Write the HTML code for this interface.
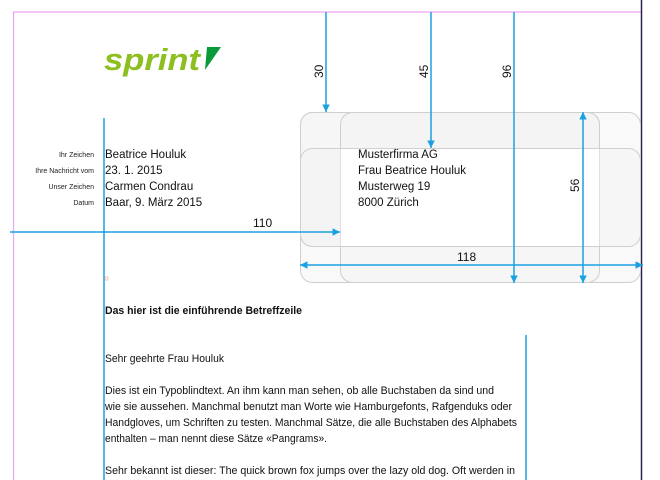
<!DOCTYPE html>
<html><head><meta charset="utf-8"><style>
html,body{margin:0;padding:0;background:#fff;width:660px;height:480px;overflow:hidden}
svg{display:block;font-family:"Liberation Sans",sans-serif}
</style></head><body>
<svg width="660" height="480" viewBox="0 0 660 480" xmlns="http://www.w3.org/2000/svg">
<defs>
<marker id="a" viewBox="0 0 10 10" refX="10" refY="5" markerWidth="5" markerHeight="5" orient="auto-start-reverse"><path d="M0,0L10,5L0,10z" fill="#1ba1e2"/></marker>
</defs>
<line x1="13" y1="12" x2="641" y2="12" stroke="#f0a0f0" stroke-width="1.2"/>
<line x1="13.5" y1="12" x2="13.5" y2="480" stroke="#e0a8f0" stroke-width="1.2"/>
<line x1="641.5" y1="0" x2="641.5" y2="480" stroke="#302050" stroke-width="1.5"/>
<text x="104" y="70" font-size="31" font-weight="bold" font-style="italic" fill="#8cbf1f" textLength="96" lengthAdjust="spacingAndGlyphs">sprint</text>
<polygon points="207,47 221,47 205,70" fill="#0a9a3a"/>
<g stroke="#cfcfcf" stroke-width="1" fill="#f2f2f2" fill-opacity="0.45">
<rect x="300.5" y="112.5" width="340" height="170" rx="12"/>
<rect x="300.5" y="112.5" width="299" height="134" rx="12"/>
<rect x="340.5" y="112.5" width="259" height="170" rx="12"/>
<rect x="300.5" y="148.5" width="340" height="98" rx="12"/>
</g>
<rect x="341" y="149" width="258" height="97" fill="#fff"/>
<g font-size="7" fill="#222" text-anchor="end">
<text x="94" y="157">Ihr Zeichen</text>
<text x="94" y="173">Ihre Nachricht vom</text>
<text x="94" y="189">Unser Zeichen</text>
<text x="94" y="205">Datum</text>
</g>
<g font-size="11.5" fill="#111">
<text x="105" y="158">Beatrice Houluk</text>
<text x="105" y="174">23. 1. 2015</text>
<text x="105" y="190">Carmen Condrau</text>
<text x="105" y="206">Baar, 9. März 2015</text>
<text x="358" y="158">Musterfirma AG</text>
<text x="358" y="174">Frau Beatrice Houluk</text>
<text x="358" y="190">Musterweg 19</text>
<text x="358" y="206">8000 Zürich</text>
</g>
<g stroke="#1ba1e2" stroke-width="1.5" fill="none">
<line x1="104" y1="118" x2="104" y2="480"/>
<line x1="526" y1="335" x2="526" y2="480"/>
<line x1="10" y1="232" x2="340" y2="232" marker-end="url(#a)"/>
<line x1="326" y1="12" x2="326" y2="112" marker-end="url(#a)"/>
<line x1="431" y1="12" x2="431" y2="148" marker-end="url(#a)"/>
<line x1="514" y1="12" x2="514" y2="283" marker-end="url(#a)"/>
<line x1="583" y1="112" x2="583" y2="283" marker-start="url(#a)" marker-end="url(#a)"/>
<line x1="300" y1="265" x2="643" y2="265" marker-start="url(#a)" marker-end="url(#a)"/>
</g>
<g font-size="12" fill="#111">
<text x="253" y="227">110</text>
<text x="457" y="261">118</text>
<text transform="translate(323,78) rotate(-90)">30</text>
<text transform="translate(428,78) rotate(-90)">45</text>
<text transform="translate(511,78) rotate(-90)">96</text>
<text transform="translate(579,192) rotate(-90)">56</text>
</g>
<g font-size="11" fill="#111" lengthAdjust="spacingAndGlyphs">
<text x="105" y="314" font-weight="bold" textLength="197" lengthAdjust="spacingAndGlyphs">Das hier ist die einführende Betreffzeile</text>
<text x="105" y="362" textLength="119" lengthAdjust="spacingAndGlyphs">Sehr geehrte Frau Houluk</text>
<text x="105" y="394" textLength="389" lengthAdjust="spacingAndGlyphs">Dies ist ein Typoblindtext. An ihm kann man sehen, ob alle Buchstaben da sind und</text>
<text x="105" y="410" textLength="407" lengthAdjust="spacingAndGlyphs">wie sie aussehen. Manchmal benutzt man Worte wie Hamburgefonts, Rafgenduks oder</text>
<text x="105" y="426" textLength="412" lengthAdjust="spacingAndGlyphs">Handgloves, um Schriften zu testen. Manchmal Sätze, die alle Buchstaben des Alphabets</text>
<text x="105" y="442" textLength="222" lengthAdjust="spacingAndGlyphs">enthalten – man nennt diese Sätze «Pangrams».</text>
<text x="105" y="474" textLength="410" lengthAdjust="spacingAndGlyphs">Sehr bekannt ist dieser: The quick brown fox jumps over the lazy old dog. Oft werden in</text>
</g>
<rect x="105" y="277" width="3" height="3" fill="none" stroke="#f0a080" stroke-width="0.6"/>
</svg>
</body></html>
